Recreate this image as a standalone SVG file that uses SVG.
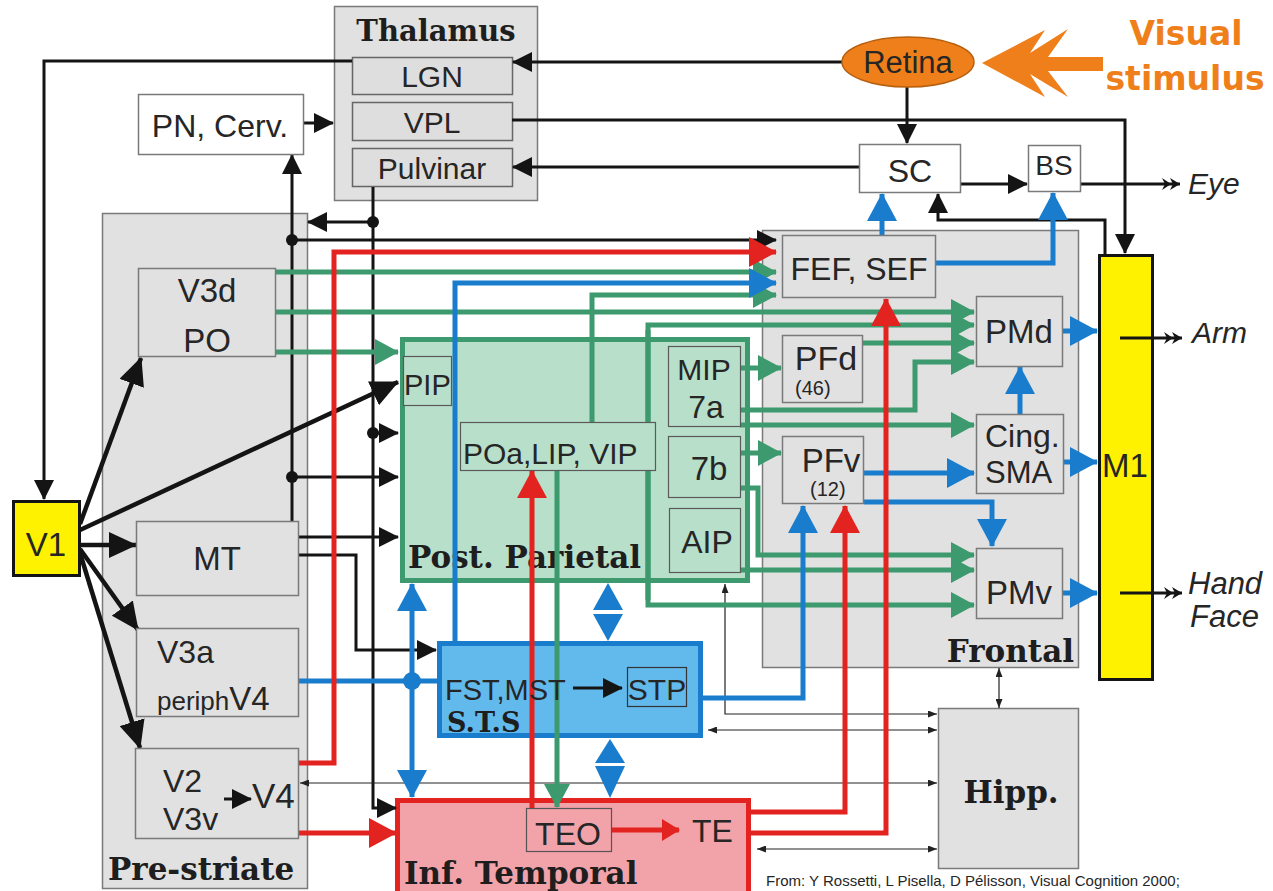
<svg xmlns="http://www.w3.org/2000/svg" width="1273" height="891" viewBox="0 0 1273 891">
<defs>
<style>
.lbl{font-family:"Liberation Sans",Arial,sans-serif;fill:#262626}
.ser{font-family:"DejaVu Serif","Liberation Serif",serif;font-weight:bold;fill:#1e1e1e}
.it{font-style:italic}
.gb{fill:#e1e1e1;stroke:#7a7a7a;stroke-width:1.5}
.wb{fill:#ffffff;stroke:#7a7a7a;stroke-width:1.5}
.sb{fill:#dedede;stroke:#666;stroke-width:1.5}
.pb{fill:#b7dfca;stroke:#5a5a5a;stroke-width:1.2}
.k{stroke:#141414;stroke-width:3;fill:none}
.kt{stroke:#141414;stroke-width:4.5;fill:none}
.kn{stroke:#222;stroke-width:1.2;fill:none}
.g{stroke:#3c9a6e;stroke-width:5;fill:none}
.b{stroke:#1a7ccc;stroke-width:5;fill:none}
.r{stroke:#e3231f;stroke-width:5;fill:none}
</style>
<marker id="ak" viewBox="0 0 20 20" refX="19" refY="10" markerWidth="20" markerHeight="20" markerUnits="userSpaceOnUse" orient="auto"><path d="M0,0L20,10L0,20z" fill="#141414"/></marker>
<marker id="akL" viewBox="0 0 28 26" refX="27" refY="13" markerWidth="28" markerHeight="26" markerUnits="userSpaceOnUse" orient="auto"><path d="M0,0L28,13L0,26z" fill="#141414"/></marker>
<marker id="at" viewBox="0 0 9 7" refX="9" refY="3.5" markerWidth="9" markerHeight="7" markerUnits="userSpaceOnUse" orient="auto-start-reverse"><path d="M0,0L9,3.5L0,7z" fill="#222"/></marker>
<marker id="ad" viewBox="0 0 18 12" refX="18" refY="6" markerWidth="18" markerHeight="12" markerUnits="userSpaceOnUse" orient="auto"><path d="M0,0L9,6L0,12L3,6zM8,0L18,6L8,12L11,6z" fill="#141414"/></marker>
<marker id="ag" viewBox="0 0 24 26" refX="23" refY="13" markerWidth="24" markerHeight="26" markerUnits="userSpaceOnUse" orient="auto"><path d="M0,0L24,13L0,26z" fill="#3c9a6e"/></marker>
<marker id="ab" viewBox="0 0 28 30" refX="27" refY="15" markerWidth="28" markerHeight="30" markerUnits="userSpaceOnUse" orient="auto"><path d="M0,0L28,15L0,30z" fill="#1a7ccc"/></marker>
<marker id="ar" viewBox="0 0 28 30" refX="27" refY="15" markerWidth="28" markerHeight="30" markerUnits="userSpaceOnUse" orient="auto"><path d="M0,0L28,15L0,30z" fill="#e3231f"/></marker>
<marker id="ars" viewBox="0 0 18 22" refX="17" refY="11" markerWidth="18" markerHeight="22" markerUnits="userSpaceOnUse" orient="auto"><path d="M0,0L18,11L0,22z" fill="#e3231f"/></marker>
</defs>
<rect x="0" y="0" width="1273" height="891" fill="#ffffff"/>

<!-- region nodes -->
<g id="prestriate"><rect class="gb" x="102.5" y="213.5" width="205" height="675"/><text class="ser" x="108" y="880" font-size="31">Pre-striate</text></g>
<g id="frontal"><rect class="gb" x="762.5" y="230.5" width="316" height="437"/><text class="ser" x="1074" y="662" font-size="31" text-anchor="end">Frontal</text></g>
<g id="hipp"><rect class="gb" x="938.5" y="708.5" width="140" height="160"/><text class="ser" x="1011" y="803" font-size="31" text-anchor="middle">Hipp.</text></g>
<g id="post-parietal"><rect x="402.5" y="339.5" width="345" height="241" fill="#b7dfca" stroke="#3c9a6e" stroke-width="5"/><text class="ser" x="408" y="568" font-size="31">Post. Parietal</text></g>
<g id="sts"><rect x="439.5" y="643.5" width="261" height="92" fill="#62b9ec" stroke="#1a7ccc" stroke-width="5"/><text class="ser" x="447" y="732" font-size="27">S.T.S</text></g>
<g id="inf-temporal"><rect x="397.5" y="800.5" width="351" height="100" fill="#f2a2a9" stroke="#e3231f" stroke-width="5"/><text class="ser" x="404" y="884" font-size="31">Inf. Temporal</text></g>
<g id="thalamus">
<rect class="gb" x="334.5" y="6.5" width="203" height="194"/>
<text class="ser" x="436" y="41" font-size="29" text-anchor="middle">Thalamus</text>
<g id="lgn"><rect class="sb" x="352.5" y="57.5" width="160" height="37"/><text class="lbl" x="432" y="87" font-size="30" text-anchor="middle">LGN</text></g>
<g id="vpl"><rect class="sb" x="352.5" y="102.5" width="160" height="38"/><text class="lbl" x="432" y="133" font-size="30" text-anchor="middle">VPL</text></g>
<g id="pulvinar"><rect class="sb" x="352.5" y="148.5" width="160" height="38"/><text class="lbl" x="432" y="179" font-size="30" text-anchor="middle">Pulvinar</text></g>
</g>
<g id="m1"><rect x="1099.5" y="255.5" width="53" height="424" fill="#fff200" stroke="#141414" stroke-width="3"/><text class="lbl" x="1102" y="477" font-size="33">M1</text></g>
<g id="v1"><rect x="13.5" y="501.5" width="66" height="74" fill="#fff200" stroke="#141414" stroke-width="3"/><text class="lbl" x="46" y="556" font-size="33" text-anchor="middle">V1</text></g>

<g id="connectors">
<!-- black -->
<path class="k" d="M352,61H44V499" marker-end="url(#ak)"/>
<path class="k" d="M842,62H513" marker-end="url(#ak)"/>
<path class="k" d="M512,120H1125V253" marker-end="url(#ak)"/>
<path class="k" d="M859,167H513" marker-end="url(#ak)"/>
<path class="k" d="M907,87V143" marker-end="url(#ak)"/>
<path class="k" d="M961,184H1027" marker-end="url(#ak)"/>
<path class="k" d="M1105,254V220H938V194" marker-end="url(#ak)"/>
<path class="k" d="M303,123H333" marker-end="url(#ak)"/>
<path class="k" d="M292,521V155" marker-end="url(#ak)"/>
<path class="k" d="M292,240H776" marker-end="url(#ak)"/>
<path class="k" d="M292,477H398" marker-end="url(#ak)"/>
<path class="k" d="M373,187V808H396" marker-end="url(#ak)"/>
<path class="k" d="M373,222H308" marker-end="url(#ak)"/>
<path class="k" d="M373,433H398" marker-end="url(#ak)"/>
<path class="k" d="M298,537H398" marker-end="url(#ak)"/>
<path class="k" d="M298,555H356V650H436" marker-end="url(#ak)"/>
<circle cx="292" cy="240" r="6" fill="#141414"/>
<circle cx="292" cy="477" r="6" fill="#141414"/>
<circle cx="373" cy="222" r="6" fill="#141414"/>
<circle cx="373" cy="433" r="6" fill="#141414"/>
<path class="k" stroke-width="2.5" d="M1080,184H1180" marker-end="url(#ad)"/>
<path class="k" stroke-width="2.5" d="M1120,338H1182" marker-end="url(#ad)"/>
<path class="k" stroke-width="2.5" d="M1120,593H1182" marker-end="url(#ad)"/>
<path class="kt" d="M80,524L141,358" marker-end="url(#akL)"/>
<path class="kt" stroke-width="3.5" d="M80,530L398,382" marker-end="url(#akL)"/>
<path class="kt" d="M80,545H136" marker-end="url(#akL)"/>
<path class="kt" d="M80,549L138,630" marker-end="url(#akL)"/>
<path class="kt" d="M80,553L140,748" marker-end="url(#akL)"/>
<!-- thin -->
<path class="kn" d="M300,783H937" marker-start="url(#at)" marker-end="url(#at)"/>
<path class="kn" d="M708,730H937" marker-start="url(#at)" marker-end="url(#at)"/>
<path class="kn" d="M725,584V714H937" marker-start="url(#at)" marker-end="url(#at)"/>
<path class="kn" d="M757,849H937" marker-start="url(#at)" marker-end="url(#at)"/>
<path class="kn" d="M999,668V708" marker-start="url(#at)" marker-end="url(#at)"/>
<!-- green -->
<path class="g" d="M276,272H776" marker-end="url(#ag)"/>
<path class="g" d="M276,312H974" marker-end="url(#ag)"/>
<path class="g" d="M276,352H398" marker-end="url(#ag)"/>
<path class="g" d="M592,422V295H776" marker-end="url(#ag)"/>
<path class="g" d="M648,600V325H974" marker-end="url(#ag)"/>
<path class="g" d="M648,330V605H974" marker-end="url(#ag)"/>
<path class="g" d="M863,343H974" marker-end="url(#ag)"/>
<path class="g" d="M740,410H915V362H974" marker-end="url(#ag)"/>
<path class="g" d="M740,425H974" marker-end="url(#ag)"/>
<path class="g" d="M740,368H781" marker-end="url(#ag)"/>
<path class="g" d="M741,453H781" marker-end="url(#ag)"/>
<path class="g" d="M741,488H758V555H974" marker-end="url(#ag)"/>
<path class="g" d="M740,570H974" marker-end="url(#ag)"/>
<path class="g" d="M557,470V807" marker-end="url(#ag)"/>
<!-- blue -->
<path class="b" d="M298,681H437"/>
<circle cx="412" cy="681" r="9" fill="#1a7ccc"/>
<path class="b" d="M412,681V584" marker-end="url(#ab)"/>
<path class="b" d="M412,681V797" marker-end="url(#ab)"/>
<path class="b" d="M455,642V283H776" marker-end="url(#ab)"/>
<path class="b" d="M703,698H803V506" marker-end="url(#ab)"/>
<path class="b" d="M864,473H974" marker-end="url(#ab)"/>
<path class="b" d="M864,502H992V546" marker-end="url(#ab)"/>
<path class="b" d="M882,235V194" marker-end="url(#ab)"/>
<path class="b" d="M936,263H1053V193" marker-end="url(#ab)"/>
<path class="b" d="M1062,331H1097" marker-end="url(#ab)"/>
<path class="b" d="M1020,414V367" marker-end="url(#ab)"/>
<path class="b" d="M1064,462H1097" marker-end="url(#ab)"/>
<path class="b" d="M1062,593H1097" marker-end="url(#ab)"/>
<polygon fill="#1a7ccc" points="608,583 593,610 623,610"/>
<polygon fill="#1a7ccc" points="593,614 623,614 608,641"/>
<polygon fill="#1a7ccc" points="610,739 595,763 625,763"/>
<polygon fill="#1a7ccc" points="595,766 625,766 610,798"/>
<!-- red -->
<path class="r" d="M298,763H334V252H776" marker-end="url(#ar)"/>
<path class="r" d="M298,833H396" marker-end="url(#ar)"/>
<path class="r" d="M532,808V471" marker-end="url(#ar)"/>
<path class="r" stroke-width="4" d="M612,830H679" marker-end="url(#ars)"/>
<path class="r" d="M750,812H845V506" marker-end="url(#ar)"/>
<path class="r" d="M750,833H886V299" marker-end="url(#ar)"/>
</g>

<!-- small nodes -->
<g id="pn-cerv"><rect class="wb" x="138.5" y="94.5" width="165" height="60"/><text class="lbl" x="220" y="137" font-size="32" text-anchor="middle">PN, Cerv.</text></g>
<g id="retina"><ellipse cx="908" cy="62" rx="66" ry="25" fill="#ef7f1a" stroke="#b8600f" stroke-width="1.5"/><text class="lbl" x="908" y="73" font-size="31" text-anchor="middle">Retina</text></g>
<g id="visual-stimulus">
<polygon fill="#ef7f1a" points="982,63 1045,30 1030,53 1068,29 1048,57 1103,57 1103,71 1048,71 1068,97 1030,74 1045,97"/>
<text x="1186" y="45" font-family="'DejaVu Sans','Liberation Sans',sans-serif" font-weight="bold" font-size="33" fill="#ef7f1a" text-anchor="middle">Visual</text>
<text x="1185" y="90" font-family="'DejaVu Sans','Liberation Sans',sans-serif" font-weight="bold" font-size="33" fill="#ef7f1a" text-anchor="middle">stimulus</text>
</g>
<g id="sc"><rect class="wb" x="859.5" y="144.5" width="101" height="48"/><text class="lbl" x="910" y="182" font-size="32" text-anchor="middle">SC</text></g>
<g id="bs"><rect class="wb" x="1028.5" y="145.5" width="52" height="46"/><text class="lbl" x="1054" y="175" font-size="28" text-anchor="middle">BS</text></g>
<g id="eye"><text class="lbl it" x="1188" y="194" font-size="30">Eye</text></g>
<g id="arm"><text class="lbl it" x="1192" y="343" font-size="30">Arm</text></g>
<g id="hand-face"><text class="lbl it" x="1188" y="594" font-size="31">Hand</text><text class="lbl it" x="1190" y="627" font-size="31">Face</text></g>

<g id="v3d-po"><rect class="gb" x="138.5" y="268.5" width="137" height="88"/><text class="lbl" x="207" y="302" font-size="33" text-anchor="middle">V3d</text><text class="lbl" x="207" y="352" font-size="33" text-anchor="middle">PO</text></g>
<g id="mt"><rect class="gb" x="136.5" y="521.5" width="162" height="74"/><text class="lbl" x="217" y="570" font-size="33" text-anchor="middle">MT</text></g>
<g id="v3a"><rect class="gb" x="136.5" y="628.5" width="162" height="88"/><text class="lbl" x="157" y="663" font-size="32">V3a</text><text class="lbl" x="157" y="710"><tspan font-size="26">periph</tspan><tspan font-size="33">V4</tspan></text></g>
<g id="v2"><rect class="gb" x="135.5" y="748.5" width="163" height="90"/><text class="lbl" x="163" y="792" font-size="32">V2</text><text class="lbl" x="163" y="830" font-size="32">V3v</text><path class="k" d="M224,799H251" marker-end="url(#ak)"/><text class="lbl" x="252" y="808" font-size="35">V4</text></g>

<g id="pip"><rect class="pb" x="403.5" y="356.5" width="48" height="49"/><text class="lbl" x="404" y="395" font-size="29">PIP</text></g>
<g id="poa-lip-vip"><rect class="pb" x="460.5" y="422.5" width="195" height="48"/><text class="lbl" x="463" y="464" font-size="30">POa,LIP, VIP</text></g>
<g id="mip-7a"><rect class="pb" x="668.5" y="346.5" width="72" height="80"/><text class="lbl" x="704" y="380" font-size="30" text-anchor="middle">MIP</text><text class="lbl" x="706" y="418" font-size="32" text-anchor="middle">7a</text></g>
<g id="b7"><rect class="pb" x="668.5" y="436.5" width="72" height="61"/><text class="lbl" x="709" y="480" font-size="33" text-anchor="middle">7b</text></g>
<g id="aip"><rect class="pb" x="669.5" y="508.5" width="71" height="64"/><text class="lbl" x="707" y="553" font-size="32" text-anchor="middle">AIP</text></g>

<g id="fef-sef"><rect class="gb" x="782.5" y="235.5" width="153" height="62"/><text class="lbl" x="859" y="280" font-size="32" text-anchor="middle">FEF, SEF</text></g>
<g id="pfd"><rect class="gb" x="782.5" y="335.5" width="80" height="67"/><text class="lbl" x="826" y="370" font-size="34" text-anchor="middle">PFd</text><text class="lbl" x="795" y="395" font-size="20">(46)</text></g>
<g id="pfv"><rect class="gb" x="782.5" y="436.5" width="81" height="67"/><text class="lbl" x="831" y="472" font-size="33" text-anchor="middle">PFv</text><text class="lbl" x="810" y="496" font-size="20">(12)</text></g>
<g id="pmd"><rect class="gb" x="976.5" y="296.5" width="86" height="70"/><text class="lbl" x="1019" y="343" font-size="33" text-anchor="middle">PMd</text></g>
<g id="cing-sma"><rect class="gb" x="976.5" y="414.5" width="87" height="79"/><text class="lbl" x="985" y="447" font-size="32">Cing.</text><text class="lbl" x="985" y="483" font-size="31">SMA</text></g>
<g id="pmv"><rect class="gb" x="976.5" y="548.5" width="86" height="70"/><text class="lbl" x="1019" y="604" font-size="33" text-anchor="middle">PMv</text></g>

<g id="fst-mst"><text class="lbl" x="445" y="700" font-size="29">FST,MST</text><path class="k" d="M573,688H622" marker-end="url(#ak)"/></g>
<g id="stp"><rect x="627.5" y="667.5" width="59" height="39" fill="#62b9ec" stroke="#333" stroke-width="1.2"/><text class="lbl" x="657" y="700" font-size="30" text-anchor="middle">STP</text></g>
<g id="teo"><rect x="526.5" y="808.5" width="85" height="43" fill="#f2a2a9" stroke="#555" stroke-width="1.2"/><text class="lbl" x="568" y="845" font-size="32" text-anchor="middle">TEO</text></g>
<g id="te"><text class="lbl" x="692" y="842" font-size="32">TE</text></g>

<g id="credit"><text class="lbl" x="766" y="886" font-size="15" fill="#444">From: Y Rossetti, L Pisella, D Pélisson, Visual Cognition 2000;</text></g>
</svg>
